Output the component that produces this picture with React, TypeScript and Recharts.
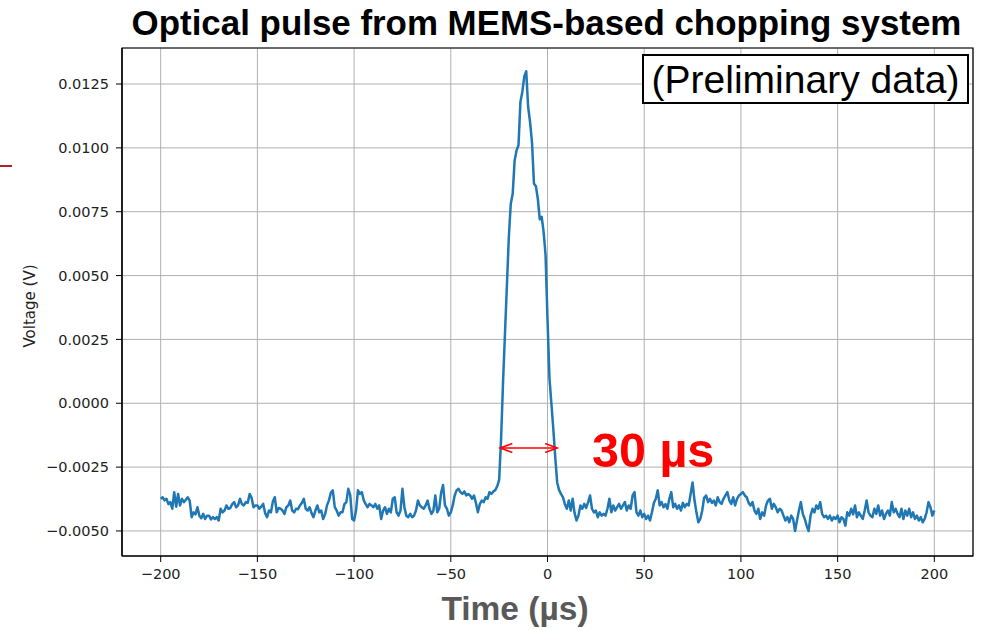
import React from 'react';
import { LineChart, Line, XAxis, YAxis, CartesianGrid, ReferenceLine, ReferenceArea } from 'recharts';

// Sample times: one sample per microsecond, from -200 µs to 200 µs
const T_START = -200; // µs
const T_STEP = 1; // µs

const voltage_mV: number[] = [
  -3.74, -3.68, -3.80, -3.74, -3.95, -3.87, -4.13, -3.48, -4.05, -3.55,
  -4.00, -3.74, -3.87, -3.78, -3.68, -3.81, -4.46, -4.27, -4.35, -4.07,
  -4.40, -4.50, -4.33, -4.53, -4.40, -4.40, -4.55, -4.46, -4.53, -4.46,
  -4.59, -4.13, -4.27, -4.20, -4.00, -4.13, -4.10, -3.95, -3.87, -4.07,
  -4.00, -3.74, -3.95, -4.00, -3.87, -3.90, -3.55, -3.70, -4.07, -4.00,
  -4.00, -4.13, -4.05, -3.94, -4.30, -4.46, -4.20, -4.27, -3.85, -3.68,
  -4.27, -4.10, -4.13, -4.20, -4.33, -4.07, -4.00, -3.81, -4.20, -4.27,
  -4.13, -4.15, -4.00, -3.90, -3.74, -4.13, -4.20, -4.07, -4.30, -4.46,
  -4.20, -4.00, -4.27, -4.20, -4.53, -4.35, -4.00, -3.80, -3.50, -3.41,
  -4.07, -4.20, -4.40, -4.27, -4.27, -3.95, -3.87, -3.35, -3.60, -4.53,
  -4.59, -4.20, -3.41, -3.55, -3.48, -3.80, -3.95, -4.07, -3.94, -4.00,
  -4.07, -3.94, -4.13, -4.00, -4.53, -4.20, -4.07, -4.33, -4.13, -4.27,
  -3.74, -3.68, -4.27, -4.40, -4.20, -3.35, -4.07, -4.40, -4.46, -4.33,
  -4.46, -4.40, -4.20, -3.81, -4.00, -4.07, -4.13, -4.00, -3.81, -4.13,
  -4.33, -4.20, -3.61, -4.27, -4.13, -3.50, -3.20, -4.00, -4.13, -4.40,
  -4.27, -4.00, -3.61, -3.41, -3.35, -3.48, -3.55, -3.45, -3.61, -3.55,
  -3.61, -3.74, -3.61, -3.90, -4.27, -3.95, -3.81, -3.87, -3.68, -3.74,
  -3.48, -3.55, -3.45, -3.40, -3.25, -3.00, -1.40, 0.80, 2.70, 4.60,
  6.50, 7.80, 8.20, 9.50, 9.90, 10.10, 11.80, 12.20, 12.80, 13.00,
  11.60, 11.00, 10.20, 8.60, 8.50, 8.00, 7.20, 7.30, 6.70, 5.80,
  3.30, 1.00, 0.00, -1.00, -2.10, -3.10, -3.40, -3.55, -3.68, -3.95,
  -4.13, -3.81, -4.20, -3.74, -4.30, -4.59, -4.40, -4.00, -4.13, -3.94,
  -4.10, -3.87, -3.61, -4.13, -4.27, -4.20, -4.46, -4.27, -4.40, -4.33,
  -4.40, -4.13, -3.74, -4.27, -4.00, -4.20, -4.07, -3.94, -4.13, -4.00,
  -3.87, -4.20, -4.00, -4.13, -3.61, -3.48, -4.27, -4.40, -4.20, -4.46,
  -4.33, -4.53, -4.40, -4.59, -4.27, -3.90, -3.74, -3.41, -4.00, -3.87,
  -4.07, -3.95, -4.13, -3.74, -3.48, -4.07, -3.94, -4.13, -4.00, -4.20,
  -3.90, -4.07, -3.94, -4.00, -3.55, -3.10, -3.80, -4.27, -4.66, -4.53,
  -4.20, -3.70, -3.61, -3.87, -3.74, -3.90, -3.81, -4.00, -3.68, -3.87,
  -3.94, -3.74, -3.61, -3.48, -3.80, -3.94, -3.68, -4.00, -3.74, -3.61,
  -3.55, -3.48, -3.61, -3.68, -3.90, -4.00, -3.87, -4.20, -4.33, -4.13,
  -4.53, -4.27, -4.40, -4.00, -3.81, -3.74, -4.13, -3.94, -4.07, -4.27,
  -4.13, -4.20, -4.40, -4.59, -4.46, -4.66, -4.40, -4.53, -5.00, -4.59,
  -4.20, -3.87, -4.33, -4.53, -4.79, -5.00, -4.40, -4.13, -4.27, -4.00,
  -4.13, -3.87, -4.33, -4.46, -4.40, -4.53, -4.40, -4.59, -4.46, -4.53,
  -4.40, -4.66, -4.46, -4.53, -4.79, -4.27, -4.40, -4.13, -4.35, -4.00,
  -4.46, -4.27, -4.40, -4.53, -4.20, -3.81, -4.27, -4.40, -4.46, -4.13,
  -4.33, -4.00, -4.40, -4.20, -4.53, -4.33, -4.20, -4.40, -3.87, -4.27,
  -4.13, -4.33, -4.46, -4.13, -4.53, -4.20, -4.40, -4.13, -4.46, -4.27,
  -4.53, -4.40, -4.59, -4.46, -4.66, -4.53, -4.27, -3.87, -4.07, -4.40,
  -4.20,
];

const xTicks = [-200, -150, -100, -50, 0, 50, 100, 150, 200];
const yTicks_mV = [-5, -2.5, 0, 2.5, 5, 7.5, 10, 12.5];
const xDomain: [number, number] = [-220, 220];
const yDomain_mV: [number, number] = [-5.98, 13.91];

// Pulse-width annotation (µs, mV)
const widthArrow = [
  { x: -24.4, y: -1.75 },
  { x: 5.0, y: -1.75 },
];

const TITLE = 'Optical pulse from MEMS-based chopping system';
const BOX_TEXT = '(Preliminary data)';
const WIDTH_TEXT = '30 µs';
const X_LABEL = 'Time (µs)';
const Y_LABEL = 'Voltage (V)';

const data = voltage_mV.map((v, i) => ({ t: T_START + i * T_STEP, v }));

const fmtX = (v: number) => (v < 0 ? '\u2212' + Math.abs(v) : String(v));
const fmtY = (v: number) => {
  const s = (v / 1000).toFixed(4);
  return s.startsWith('-') ? '\u2212' + s.slice(1) : s;
};

const ArrowShape = (props: any) => {
  const { x1, y1, x2, y2 } = props;
  const L = 12;
  const W = 4.5;
  return (
    <g stroke="#ff0000" strokeWidth={1.6} fill="none">
      <line x1={x1} y1={y1} x2={x2} y2={y2} />
      <polyline points={`${x1 + L},${y1 - W} ${x1},${y1} ${x1 + L},${y1 + W}`} />
      <polyline points={`${x2 - L},${y2 - W} ${x2},${y2} ${x2 - L},${y2 + W}`} />
    </g>
  );
};

const tickFont = { fill: '#222', fontSize: 14.5, fontFamily: 'DejaVu Sans' };

export default function App() {
  return (
    <div style={{ position: 'absolute', left: 0, top: 0, width: 987, height: 630, background: '#fff' }}>
      <LineChart
        width={987}
        height={630}
        data={data}
        margin={{ top: 48, right: 14, left: 0, bottom: 44 }}
      >
        <CartesianGrid stroke="#b0b0b0" strokeWidth={1} />
        <ReferenceArea
          x1={xDomain[0]}
          x2={xDomain[1]}
          y1={yDomain_mV[0]}
          y2={yDomain_mV[1]}
          fill="none"
          fillOpacity={0}
          stroke="#000"
          strokeWidth={1.2}
          ifOverflow="extendDomain"
        />
        <XAxis
          dataKey="t"
          type="number"
          domain={xDomain}
          ticks={xTicks}
          allowDataOverflow
          height={30}
          tickSize={6}
          tickMargin={7}
          tickFormatter={fmtX}
          tick={tickFont}
          axisLine={{ stroke: '#000', strokeWidth: 1.2 }}
          tickLine={{ stroke: '#000' }}
        />
        <YAxis
          type="number"
          domain={yDomain_mV}
          ticks={yTicks_mV}
          allowDataOverflow
          width={122}
          tickSize={6}
          tickMargin={7}
          tickFormatter={fmtY}
          tick={tickFont}
          axisLine={{ stroke: '#000', strokeWidth: 1.2 }}
          tickLine={{ stroke: '#000' }}
        />
        <Line
          type="linear"
          dataKey="v"
          stroke="#1f77b4"
          strokeWidth={2.5}
          strokeLinejoin="round"
          dot={false}
          isAnimationActive={false}
        />
        <ReferenceLine
          segment={widthArrow}
          stroke="#ff0000"
          shape={ArrowShape}
          ifOverflow="visible"
        />
      </LineChart>
      <svg
        width={987}
        height={630}
        style={{ position: 'absolute', left: 0, top: 0, pointerEvents: 'none' }}
      >
        <line x1={0} y1={166} x2={12} y2={166} stroke="#b22222" strokeWidth={2} />
        <text
          x={546.5}
          y={35}
          textAnchor="middle"
          fontFamily="Liberation Sans, Arial, sans-serif"
          fontWeight="bold"
          fontSize={34.9}
          fill="#000"
        >
          {TITLE}
        </text>
        <rect x={643} y={55} width={325} height={48} fill="#fff" stroke="#000" strokeWidth={2} />
        <text
          x={805.5}
          y={93}
          textAnchor="middle"
          fontFamily="Liberation Sans, Arial, sans-serif"
          fontSize={39}
          fill="#000"
        >
          {BOX_TEXT}
        </text>
        <text
          x={592}
          y={467}
          fontFamily="Liberation Sans, Arial, sans-serif"
          fontWeight="bold"
          fontSize={48.5}
          fill="#ff0000"
        >
          {WIDTH_TEXT}
        </text>
        <text
          x={515}
          y={620}
          textAnchor="middle"
          fontFamily="Liberation Sans, Arial, sans-serif"
          fontWeight="bold"
          fontSize={33.5}
          fill="#595959"
        >
          {X_LABEL}
        </text>
        <text
          x={30}
          y={306}
          textAnchor="middle"
          dominantBaseline="central"
          transform="rotate(-90 30 306)"
          fontFamily="DejaVu Sans"
          fontSize={15}
          fill="#222"
        >
          {Y_LABEL}
        </text>
      </svg>
    </div>
  );
}
